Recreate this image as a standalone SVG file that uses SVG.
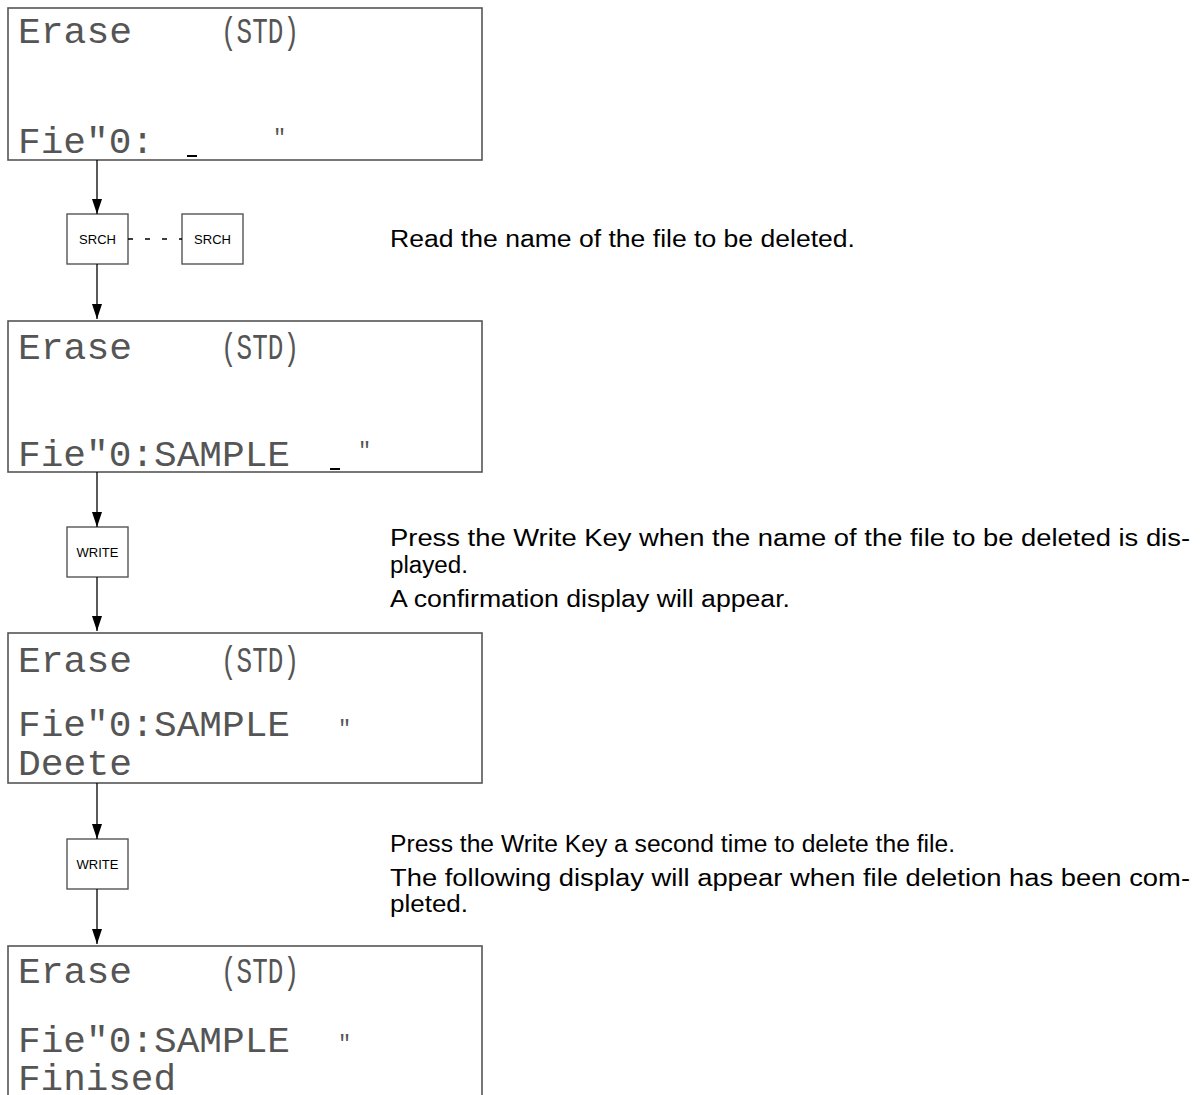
<svg xmlns="http://www.w3.org/2000/svg" width="1202" height="1095" viewBox="0 0 1202 1095">
<style>
.lcd{fill:#fff;stroke:#555;stroke-width:1.6}
.key{fill:#fff;stroke:#555;stroke-width:1.4}
.dm{font-family:"Liberation Mono","DejaVu Sans Mono",monospace;font-size:36px;fill:#555}
.dq{font-family:"Liberation Mono","DejaVu Sans Mono",monospace;font-size:22px;fill:#555}
.kl{font-family:"Liberation Sans",Arial,sans-serif;font-size:13px;fill:#000;text-anchor:middle}
.tx{font-family:"Liberation Sans",Arial,sans-serif;font-size:23px;fill:#000}
.ln{stroke:#000;stroke-width:1.3;fill:none}
.cur{fill:#000}
</style>
<defs>
<marker id="arr" markerWidth="15" markerHeight="10" refX="15" refY="5" orient="auto" markerUnits="userSpaceOnUse" viewBox="0 0 15 10">
<path d="M0,0 L15,5 L0,10 Z" fill="#000"/>
</marker>
</defs>

<g id="display1">
<rect class="lcd" x="8" y="8" width="474" height="152"/>
<text class="dm" x="18" y="43" textLength="114" lengthAdjust="spacingAndGlyphs">Erase</text>
<text class="dm" x="221" y="43" textLength="78" lengthAdjust="spacingAndGlyphs">(STD)</text>
<text class="dm" x="18" y="153" textLength="136" lengthAdjust="spacingAndGlyphs">Fie"0:</text>
<rect class="cur" x="187" y="155" width="10" height="2"/>
<text class="dq" x="273" y="144">"</text>
</g>

<g id="display2">
<rect class="lcd" x="8" y="321" width="474" height="151"/>
<text class="dm" x="18" y="359" textLength="114" lengthAdjust="spacingAndGlyphs">Erase</text>
<text class="dm" x="221" y="359" textLength="78" lengthAdjust="spacingAndGlyphs">(STD)</text>
<text class="dm" x="18" y="466" textLength="272" lengthAdjust="spacingAndGlyphs">Fie"0:SAMPLE</text>
<rect class="cur" x="330" y="468" width="10" height="2"/>
<text class="dq" x="358" y="457">"</text>
</g>

<g id="display3">
<rect class="lcd" x="8" y="633" width="474" height="150"/>
<text class="dm" x="18" y="672" textLength="114" lengthAdjust="spacingAndGlyphs">Erase</text>
<text class="dm" x="221" y="672" textLength="78" lengthAdjust="spacingAndGlyphs">(STD)</text>
<text class="dm" x="18" y="736" textLength="272" lengthAdjust="spacingAndGlyphs">Fie"0:SAMPLE</text>
<text class="dq" x="338" y="735">"</text>
<text class="dm" x="18" y="775" textLength="114" lengthAdjust="spacingAndGlyphs">Deete</text>
</g>

<g id="display4">
<rect class="lcd" x="8" y="946" width="474" height="160"/>
<text class="dm" x="18" y="983" textLength="114" lengthAdjust="spacingAndGlyphs">Erase</text>
<text class="dm" x="221" y="983" textLength="78" lengthAdjust="spacingAndGlyphs">(STD)</text>
<text class="dm" x="18" y="1052" textLength="272" lengthAdjust="spacingAndGlyphs">Fie"0:SAMPLE</text>
<text class="dq" x="338" y="1050">"</text>
<text class="dm" x="18" y="1090" textLength="158" lengthAdjust="spacingAndGlyphs">Finised</text>
</g>

<g id="key-srch1">
<rect class="key" x="67" y="214" width="61" height="50"/>
<text class="kl" x="97.5" y="244">SRCH</text>
</g>
<g id="key-srch2">
<rect class="key" x="182" y="214" width="61" height="50"/>
<text class="kl" x="212.5" y="244">SRCH</text>
</g>
<g id="key-write1">
<rect class="key" x="67" y="527" width="61" height="50"/>
<text class="kl" x="97.5" y="557">WRITE</text>
</g>
<g id="key-write2">
<rect class="key" x="67" y="839" width="61" height="50"/>
<text class="kl" x="97.5" y="869">WRITE</text>
</g>

<g id="connectors">
<line class="ln" x1="97" y1="160" x2="97" y2="214" marker-end="url(#arr)"/>
<line class="ln" x1="97" y1="264" x2="97" y2="319" marker-end="url(#arr)"/>
<line class="ln" x1="97" y1="472" x2="97" y2="527" marker-end="url(#arr)"/>
<line class="ln" x1="97" y1="577" x2="97" y2="631" marker-end="url(#arr)"/>
<line class="ln" x1="97" y1="783" x2="97" y2="839" marker-end="url(#arr)"/>
<line class="ln" x1="97" y1="889" x2="97" y2="944" marker-end="url(#arr)"/>
<line class="ln" x1="128" y1="239" x2="182" y2="239" stroke-dasharray="5 12"/>
</g>

<g id="notes">
<text class="tx" x="390" y="247" textLength="465" lengthAdjust="spacingAndGlyphs">Read the name of the file to be deleted.</text>
<text class="tx" x="390" y="546" textLength="800" lengthAdjust="spacingAndGlyphs">Press the Write Key when the name of the file to be deleted is dis-</text>
<text class="tx" x="390" y="573" textLength="78" lengthAdjust="spacingAndGlyphs">played.</text>
<text class="tx" x="390" y="607" textLength="400" lengthAdjust="spacingAndGlyphs">A confirmation display will appear.</text>
<text class="tx" x="390" y="852" textLength="565" lengthAdjust="spacingAndGlyphs">Press the Write Key a second time to delete the file.</text>
<text class="tx" x="390" y="886" textLength="800" lengthAdjust="spacingAndGlyphs">The following display will appear when file deletion has been com-</text>
<text class="tx" x="390" y="912" textLength="78" lengthAdjust="spacingAndGlyphs">pleted.</text>
</g>
</svg>
